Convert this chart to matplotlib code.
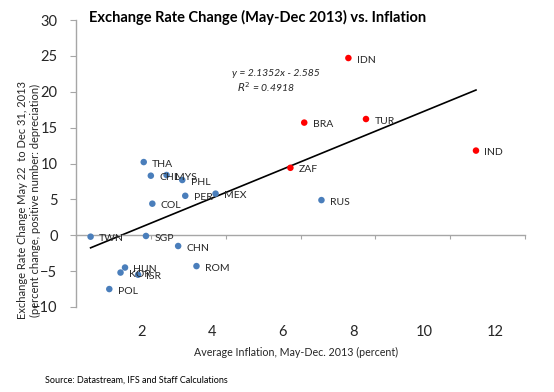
import matplotlib
matplotlib.use("Agg")
import matplotlib.pyplot as plt
import numpy as np

plt.rcParams['font.family'] = ['Lato', 'DejaVu Sans']

# ---- data ----
countries = ["THA", "CHL", "MYS", "PHL", "PER", "MEX", "COL", "TWN", "SGP", "CHN",
             "ROM", "HUN", "KOR", "ISR", "POL", "RUS",
             "IDN", "BRA", "TUR", "ZAF", "IND"]
inflation = [1.81, 2.00, 2.42, 2.84, 2.92, 3.73, 2.04, 0.39, 1.87, 2.73,
             3.22, 1.31, 1.19, 1.66, 0.89, 6.56,
             7.28, 6.10, 7.75, 5.73, 10.69]
fx_change = [10.2, 8.3, 8.4, 7.7, 5.5, 5.8, 4.4, -0.2, -0.1, -1.5,
             -4.3, -4.5, -5.2, -5.5, -7.5, 4.9,
             24.7, 15.7, 16.2, 9.4, 11.8]
highlight = [False] * 16 + [True] * 5

trend_slope = 2.1352
trend_intercept = -2.585
trend_r2 = 0.4918

xticks = [0, 2, 4, 6, 8, 10, 12]
yticks = [-10, -5, 0, 5, 10, 15, 20, 25, 30]

BLUE = "#4A7EBB"
RED = "#FF0000"
AXC = "#A6A6A6"
TXT = "#262626"

fig = plt.figure(figsize=(5.54, 3.92), dpi=100)
W, H = 554, 392
ax = fig.add_axes([76 / W, 1 - 307 / H, (525 - 76) / W, (307 - 20) / H])
ax.set_xlim(0, 12)
ax.set_ylim(-10, 30)

for s in ("top", "right"):
    ax.spines[s].set_visible(False)
ax.spines["left"].set_color(AXC)
ax.spines["left"].set_linewidth(1.0)
ax.spines["bottom"].set_position(("data", 0))
ax.spines["bottom"].set_color(AXC)
ax.spines["bottom"].set_linewidth(1.0)

ax.set_xticks(xticks)
ax.set_yticks(yticks)
ax.tick_params(axis="x", direction="out", length=3, color=AXC, labelbottom=False)
ax.tick_params(axis="y", direction="out", length=4.3, color=AXC, pad=9,
               labelsize=10.5, labelcolor=TXT)

# tick labels along the bottom (slightly offset, as in the reference)
def fwd(d):
    return (np.asarray(d) + 0.1333) / 0.944

def inv(v):
    return np.asarray(v) * 0.944 - 0.1333

sec = ax.secondary_xaxis(0, functions=(fwd, inv))
sec.set_xticks(xticks)
sec.spines["bottom"].set_visible(False)
sec.tick_params(length=0, pad=13, labelsize=10.5, labelcolor=TXT)

# points
colors = [RED if h else BLUE for h in highlight]
ax.scatter(inflation, fx_change, s=22, c=colors, zorder=3, linewidths=0)
for name, x, y in zip(countries, inflation, fx_change):
    ax.annotate(name, (x, y), xytext=(6, -1.5), textcoords="offset points",
                fontsize=7.5, color=TXT, va="center", ha="left", zorder=4)

# trend line
xs = np.array([min(inflation), max(inflation)])
ax.plot(xs, trend_slope * xs + trend_intercept, color="black", lw=1.2, zorder=2)
ax.text(232 / W, 1 - 73 / H, f"y = {trend_slope}x - {-trend_intercept}",
        transform=fig.transFigure, fontsize=7.5, style="italic", color=TXT,
        ha="left", va="center")
ax.text(237 / W, 1 - 87 / H, f"$R^2$ = {trend_r2}",
        transform=fig.transFigure, fontsize=7.5, style="italic", color=TXT,
        ha="left", va="center")

# texts
fig.text(258 / W, 1 - 17 / H, "Exchange Rate Change (May-Dec 2013) vs. Inflation",
         fontsize=10.5, fontweight="bold", ha="center", va="center", color="black")
fig.text(296 / W, 1 - 352 / H, "Average Inflation, May-Dec. 2013 (percent)",
         fontsize=7.7, ha="center", va="center", color=TXT)
fig.text(29 / W, 1 - 200 / H,
         "Exchange Rate Change May 22  to Dec 31, 2013\n(percent change, positive number: depreciation)",
         fontsize=8, rotation=90, ha="center", va="center", color=TXT,
         linespacing=1.15, multialignment="center")
fig.text(45 / W, 1 - 380 / H, "Source: Datastream, IFS and Staff Calculations",
         fontsize=6.5, ha="left", va="center", color="black")

fig.savefig("out.png", dpi=100)
